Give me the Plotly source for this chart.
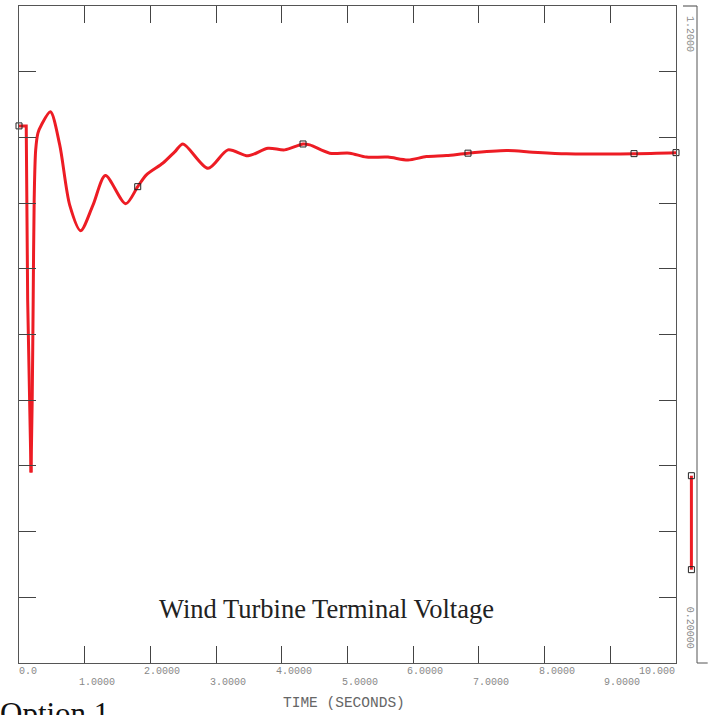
import plotly.graph_objects as go

# Time (s) and terminal voltage (pu)
time_s = [0.0, 0.11, 0.132, 0.183, 0.201, 0.216, 0.231, 0.254, 0.289, 0.341, 0.478,
          0.619, 0.772, 0.939, 1.126, 1.315, 1.624, 1.807, 1.939, 2.192, 2.37, 2.496,
          2.877, 3.181, 3.486, 3.79, 4.044, 4.323, 4.425, 4.729, 5.034, 5.288, 5.616,
          5.921, 6.201, 6.505, 6.834, 7.418, 7.819, 8.332, 9.361, 10.0]
voltage = [1.0175, 1.0175, 0.753, 0.490, 0.601, 0.753, 0.905, 0.981, 1.007, 1.019, 1.039,
           0.989, 0.897, 0.858, 0.897, 0.942, 0.899, 0.925, 0.943, 0.961, 0.978, 0.990,
           0.953, 0.981, 0.972, 0.9835, 0.981, 0.990, 0.9886, 0.976, 0.976, 0.970, 0.970,
           0.9657, 0.9708, 0.9723, 0.976, 0.980, 0.9775, 0.975, 0.9753, 0.9768]
marker_idx = [0, 17, 27, 36, 40, 41]

tick_vals = [0, 1, 2, 3, 4, 5, 6, 7, 8, 9, 10]
tick_text = ["0.0", "1.0000", "2.0000", "3.0000", "4.0000", "5.0000",
             "6.0000", "7.0000", "8.0000", "9.0000", "10.000"]
legend_top = "1.2000"
legend_bottom = "0.20000"

RED = "rgb(237,28,36)"
GREY = "#888888"
MONO = "Liberation Mono, Courier New, monospace"
SERIF = "Liberation Serif, Times New Roman, serif"

fig = go.Figure()
split = 3
fig.add_trace(go.Scatter(x=time_s[:split + 1], y=voltage[:split + 1], mode="lines",
                         line=dict(color=RED, width=3), showlegend=False))
fig.add_trace(go.Scatter(x=time_s[split:], y=voltage[split:], mode="lines",
                         line=dict(color=RED, width=3, shape="spline", smoothing=0.8),
                         showlegend=False))
fig.add_trace(go.Scatter(x=[time_s[i] for i in marker_idx], y=[voltage[i] for i in marker_idx],
                         mode="markers", cliponaxis=False,
                         marker=dict(symbol="square-open", size=6, color="#222",
                                     line=dict(width=1, color="#222")),
                         showlegend=False))

fig.update_xaxes(range=[0, 10], tickvals=tick_vals, showticklabels=False,
                 ticks="inside", ticklen=17, tickcolor="#444", showline=True,
                 linecolor="#555", mirror="ticks", showgrid=False, zeroline=False)
fig.update_yaxes(range=[0.2, 1.2], tick0=0.2, dtick=0.1, showticklabels=False,
                 ticks="inside", ticklen=17, tickcolor="#444", showline=True,
                 linecolor="#555", mirror="ticks", showgrid=False, zeroline=False)

ann = []
for i, (v, t) in enumerate(zip(tick_vals, tick_text)):
    y = -0.0135 if i % 2 == 0 else -0.0294
    if i == 0:
        ann.append(dict(x=v, y=y, xref="x", yref="paper", text=t, showarrow=False, xshift=-2,
                        xanchor="left", yanchor="middle", font=dict(family=MONO, size=10, color=GREY)))
    elif i == len(tick_vals) - 1:
        ann.append(dict(x=v, y=y, xref="x", yref="paper", text=t, showarrow=False, xshift=1,
                        xanchor="right", yanchor="middle", font=dict(family=MONO, size=10, color=GREY)))
    else:
        ann.append(dict(x=v, y=y, xref="x", yref="paper", text=t, showarrow=False, xshift=-8,
                        xanchor="left", yanchor="middle", font=dict(family=MONO, size=10, color=GREY)))

ann.append(dict(x=0.4954, y=-0.061, xref="paper", yref="paper", text="TIME (SECONDS)",
                showarrow=False, xanchor="center", yanchor="middle",
                font=dict(family=MONO, size=14.5, color="#666")))
ann.append(dict(x=0.468, y=0.0828, xref="paper", yref="paper", text="Wind Turbine Terminal Voltage",
                showarrow=False, xanchor="center", yanchor="middle",
                font=dict(family=SERIF, size=26.5, color="#222")))
ann.append(dict(x=-0.032, y=-0.077, xref="paper", yref="paper", text="Option 1",
                showarrow=False, xanchor="left", yanchor="middle",
                font=dict(family=SERIF, size=31, color="#111")))
ann.append(dict(x=1.0198, y=0.9574, xref="paper", yref="paper", text=legend_top,
                showarrow=False, textangle=90, xanchor="center", yanchor="middle",
                font=dict(family=MONO, size=10, color=GREY)))
ann.append(dict(x=1.0198, y=0.0538, xref="paper", yref="paper", text=legend_bottom,
                showarrow=False, textangle=90, xanchor="center", yanchor="middle",
                font=dict(family=MONO, size=10, color=GREY)))

def px(xp):
    return (xp - 19.3) / 657.0

def py(yp):
    return (663.4 - yp) / 657.4

shapes = [
    dict(type="line", xref="paper", yref="paper", x0=px(683.3), x1=px(697.3), y0=py(6), y1=py(6),
         line=dict(color="#444", width=1)),
    dict(type="line", xref="paper", yref="paper", x0=px(697.3), x1=px(697.3), y0=py(6), y1=py(663.4),
         line=dict(color="#555", width=1)),
    dict(type="line", xref="paper", yref="paper", x0=px(697.3), x1=px(708), y0=py(663.4), y1=py(663.4),
         line=dict(color="#555", width=1)),
    dict(type="line", xref="paper", yref="paper", x0=px(691.7), x1=px(691.7), y0=py(476), y1=py(570),
         line=dict(color=RED, width=3)),
]
for yy in (476, 570):
    shapes.append(dict(type="rect", xref="paper", yref="paper",
                       x0=px(688.7), x1=px(694.7), y0=py(yy - 3), y1=py(yy + 3),
                       line=dict(color="#222", width=1)))

fig.update_layout(width=708, height=715, margin=dict(l=19, r=32, t=6, b=52),
                  paper_bgcolor="white", plot_bgcolor="white",
                  annotations=ann, shapes=shapes, showlegend=False)

fig.write_html("out.html")
